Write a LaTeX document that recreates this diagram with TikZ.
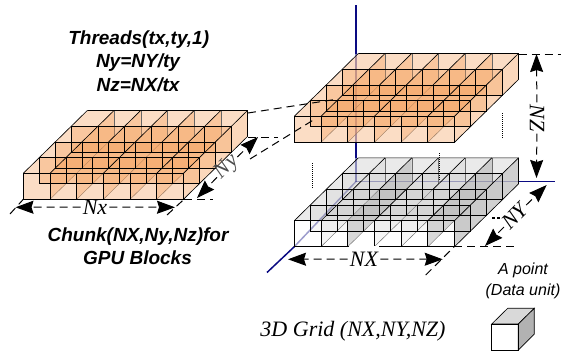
\documentclass[tikz,border=0pt]{standalone}
\usepackage{fontspec}
\setmainfont{Liberation Serif}
\newfontfamily\lsans{Liberation Sans}
\usetikzlibrary{arrows.meta}
\definecolor{axisblue}{RGB}{10,10,130}
\definecolor{orfill}{RGB}{244,158,88}
\definecolor{gyfill}{RGB}{150,150,150}
\tikzset{
  crisp/.style={draw=black,line width=0.65pt,line join=miter},
  soft/.style={draw=black!60,line width=0.4pt},
  dimline/.style={line width=1pt,dash pattern=on 8pt off 5pt},
  dimarrow/.style={dimline,-{Stealth[length=18pt,width=13pt,inset=2pt]}},
  axisline/.style={draw=axisblue,line width=1.5pt},
  axisfade/.style={axisline,draw opacity=.5},
  axispale/.style={axisline,draw opacity=.4},
  dotted line/.style={line width=0.8pt,dash pattern=on 1pt off 1pt},
  boldlabel/.style={font=\lsans\bfseries\itshape\fontsize{19}{19}\selectfont,inner sep=0pt},
  dimlabel/.style={font=\itshape\fontsize{22}{22}\selectfont,inner sep=2pt},
  sanslabel/.style={font=\lsans\itshape\fontsize{16}{16}\selectfont,inner sep=0pt},
}
\newcommand\gridblock[6]{%
\begin{scope}[shift={(#1,#2)},x={(26.7pt,0pt)},y={(16pt,15.7pt)},z={(0pt,26pt)}]
  \fill[#3,opacity=#4] (0,0,1)--(6,0,1)--(6,4,1)--(0,4,1)--cycle;
  \foreach \i in {1,...,5} {
    \fill[#3,opacity=#4] (\i,0,0)--(\i,0,1)--(\i,4,1)--(\i,4,0)--cycle;
    \draw[soft] (\i,0,0)--(\i,4,0);
    \draw[soft] (\i,4,0)--(\i,4,1);
  }
  \foreach \j in {3,2,1} {
    \fill[#3,opacity=#4] (0,\j,0)--(6,\j,0)--(6,\j,1)--(0,\j,1)--cycle;
  }
  #5
  \fill[#3,opacity=#6] (6,0,0)--(6,4,0)--(6,4,1)--(6,0,1)--cycle;
  \foreach \j in {0,...,3} {
    \draw[crisp] (0,\j,0) rectangle (6,\j,1);
    \foreach \i in {1,...,5} { \draw[crisp] (\i,\j,0)--(\i,\j,1); }
  }
  \foreach \i in {0,1,3,5,6} { \draw[crisp] (\i,0,1)--(\i,4,1); }
  \foreach \i in {2,4} { \draw[crisp] (\i,2,1)--(\i,4,1); }
  \draw[crisp] (0,4,1)--(6,4,1)--(6,4,0)--(6,0,0);
\end{scope}}
\begin{document}
\begin{tikzpicture}[x=1pt,y=-1pt]
\useasboundingbox (0,0) rectangle (565,351);
% axes
\coordinate (origin) at (356,181.5);
\coordinate (axtop) at (356,5);
\coordinate (axright) at (555,181.5);
\coordinate (axfront) at (267,272.5);
\coordinate (v1) at (356,54);
\coordinate (v2) at (356,142.3);
\coordinate (v3) at (356,158.3);
\coordinate (h1) at (518.7,181.5);
\coordinate (f1) at (294.3,246.7);
\draw[axisline] (axtop)--(v1);
\draw[axisfade] (v1)--(v2);
\draw[axisline] (v2)--(v3);
\draw[axisfade] (v3)--(origin);
\draw[axispale] (origin)--(h1);
\draw[axisline] (h1)--(axright);
\draw[axispale] (origin)--(f1);
\draw[axisline] (f1)--(axfront);
% blocks
\gridblock{23.3}{199.3}{orfill}{.35}{\fill[orfill,opacity=.35] (0,0,0) rectangle (6,0,1);}{.4}
\gridblock{294.3}{142.3}{orfill}{.35}{\fill[orfill,opacity=.35] (0,0,0) rectangle (6,0,1);}{.4}
\gridblock{294.3}{246.7}{gyfill}{.09}{\fill[gyfill,opacity=.12] (0,0,1)--(6,0,1)--(6,4,1)--(0,4,1)--cycle;
  \foreach \i in {2,5} {\fill[gyfill,opacity=.3] (\i,0,0)--(\i,0,1)--(\i,4,1)--(\i,4,0)--cycle;}}{.45}
\draw[white,line width=1.4pt] (348.7,246.7)--(379,246.7);
% dotted markers
\coordinate (da) at (502,113); \coordinate (db) at (502,138);
\coordinate (dc) at (312.7,163); \coordinate (dd) at (312.7,189);
\coordinate (de) at (439,153); \coordinate (df) at (439,180);
\coordinate (dg) at (492,218); \coordinate (dh) at (500,218);
\draw[dotted line] (da)--(db);
\draw[dotted line] (dc)--(dd);
\draw[dotted line] (de)--(df);
\draw[line width=1.2pt,dash pattern=on 3pt off 2pt] (dg)--(dh);
% connection between chunk and slab
\coordinate (ca) at (248,113); \coordinate (cb) at (338,99);
\coordinate (cc) at (250,159); \coordinate (cd) at (315,119);
\draw[dimline] (ca)--(cb);
\draw[dimline] (cc)--(cd);
% Nx
\node[dimlabel] (nxs) at (95,207) {Nx};
\coordinate (nxl) at (15.5,207.3); \coordinate (nxr) at (175,207.3);
\draw[dimarrow] (nxs)--(nxl);
\draw[dimarrow] (nxs)--(nxr);
\coordinate (e1a) at (10,214); \coordinate (e1b) at (23.3,199.3);
\coordinate (e2a) at (167,215); \coordinate (e2b) at (184,199.3);
\draw[dimline] (e1a)--(e1b);
\draw[dimline] (e2a)--(e2b);
% Ny
\node[dimlabel,rotate=45,text=black!70] (nys) at (227,167) {Ny};
\coordinate (nyl) at (197,198); \coordinate (nyr) at (258,137);
\draw[dimarrow] (nys)--(nyl);
\draw[dimarrow] (nys)--(nyr);
\coordinate (e3a) at (184,199.3); \coordinate (e3b) at (213,199.3);
\coordinate (e4a) at (248,137); \coordinate (e4b) at (278,137);
\draw[dimline] (e3a)--(e3b);
\draw[dimline] (e4a)--(e4b);
% NX
\node[dimlabel] (bnx) at (364,259) {NX};
\coordinate (bxl) at (288,259.3); \coordinate (bxr) at (442.7,259.3);
\draw[dimarrow] (bnx)--(bxl);
\draw[dimarrow] (bnx)--(bxr);
\coordinate (e5a) at (425.7,275); \coordinate (e5b) at (454.3,246.7);
\draw[dimline] (e5a)--(e5b);
% NY
\node[dimlabel,rotate=45] (bny) at (515,216) {NY};
\coordinate (byl) at (485,246); \coordinate (byr) at (546.7,185);
\draw[dimarrow] (bny)--(byl);
\draw[dimarrow] (bny)--(byr);
\coordinate (e6a) at (454.3,246.5); \coordinate (e6b) at (514,246.5);
\draw[dimline] (e6a)--(e6b);
% NZ
\node[dimlabel,rotate=-90] (bnz) at (537,118) {NZ};
\coordinate (bzt) at (536.5,54); \coordinate (bzb) at (536.5,178);
\draw[dimarrow] (bnz)--(bzt);
\draw[dimarrow] (bnz)--(bzb);
\coordinate (e7a) at (518.7,54); \coordinate (e7b) at (561,54);
\draw[dimline] (e7a)--(e7b);
% texts
\node[boldlabel] (t1) at (138.7,39.3) {Threads(tx,ty,1)};
\node[boldlabel] (t2) at (138,62.5) {Ny=NY/ty};
\node[boldlabel] (t3) at (138,85) {Nz=NX/tx};
\node[boldlabel] (t4) at (138,237) {Chunk(NX,Ny,Nz)for};
\node[boldlabel] (t5) at (137.5,258) {GPU Blocks};
\node[sanslabel] (t6) at (523,270) {A point};
\node[sanslabel] (t7) at (523,291) {(Data unit)};
\node[font=\itshape\fontsize{22}{22}\selectfont,inner sep=0pt] (t8) at (353,331) {3D Grid (NX,NY,NZ)};
% data point cube
\fill[white] (491.7,324) rectangle (518.3,350);
\draw[crisp,fill=black!15] (491.7,324)--(507.7,308.3)--(534.3,308.3)--(518.3,324)--cycle;
\draw[crisp,fill=black!30] (518.3,324)--(534.3,308.3)--(534.3,334)--(518.3,350)--cycle;
\draw[crisp] (491.7,324) rectangle (518.3,350);
\end{tikzpicture}
\end{document}
